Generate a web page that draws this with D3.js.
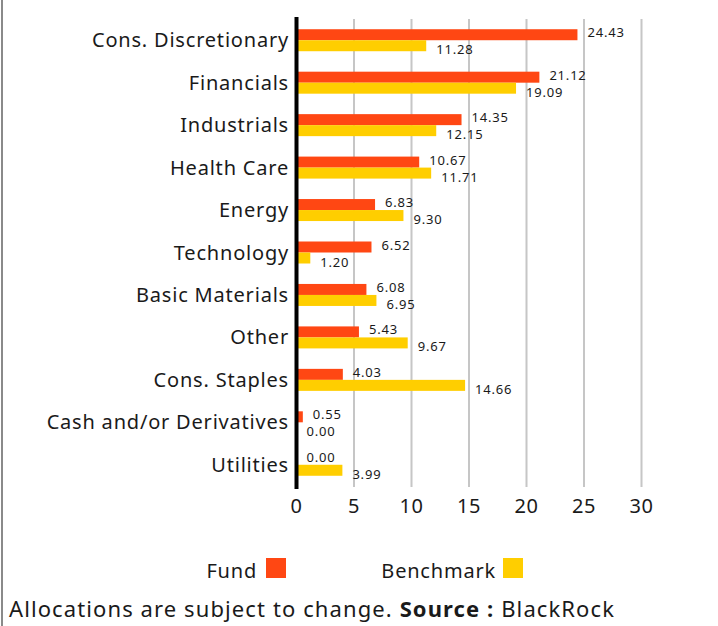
<!DOCTYPE html>
<html>
<head>
<meta charset="utf-8">
<script src="https://cdn.jsdelivr.net/npm/d3@7"></script>
<style>
  html, body { margin: 0; padding: 0; background: #fff; }
  svg { display: block; }
  text { font-family: "Noto Sans", sans-serif; fill: #1a1a1a; }
</style>
</head>
<body>
<svg id="chart" width="718" height="626"></svg>
<script>
// Sector allocation (%) for the fund and its benchmark
const sectors = ["Cons. Discretionary", "Financials", "Industrials", "Health Care", "Energy",
  "Technology", "Basic Materials", "Other", "Cons. Staples", "Cash and/or Derivatives", "Utilities"];
const fundValues = [24.43, 21.12, 14.35, 10.67, 6.83, 6.52, 6.08, 5.43, 4.03, 0.55, 0.00];
const benchmarkValues = [11.28, 19.09, 12.15, 11.71, 9.30, 1.20, 6.95, 9.67, 14.66, 0.00, 3.99];
const xTicks = [0, 5, 10, 15, 20, 25, 30];
const seriesNames = ["Fund", "Benchmark"];
const seriesColors = ["#FF4713", "#FFCE00"];

const svg = d3.select("#chart");

// frame edge on the left
svg.append("line")
  .attr("x1", 2).attr("x2", 2).attr("y1", 0).attr("y2", 626)
  .attr("stroke", "#8a8a8a").attr("stroke-width", 2);

const x = d3.scaleLinear().domain([0, 30]).range([296.5, 641.5]);
const y = d3.scaleBand().domain(sectors).range([19, 486]).paddingInner(0).paddingOuter(0);
const barH = 11;

// vertical gridlines
svg.append("g").selectAll("line")
  .data(xTicks.filter(d => d > 0))
  .join("line")
  .attr("x1", d => x(d)).attr("x2", d => x(d))
  .attr("y1", 19).attr("y2", 487)
  .attr("stroke", "#c6c6c6").attr("stroke-width", 2);

// x axis tick labels
svg.append("g").selectAll("text")
  .data(xTicks)
  .join("text")
  .attr("x", d => x(d)).attr("y", 513)
  .attr("text-anchor", "middle")
  .style("font-size", "20px")
  .style("letter-spacing", "0.5px")
  .text(d => d);

const groups = svg.append("g").selectAll("g")
  .data(sectors)
  .join("g")
  .attr("transform", d => `translate(0,${y(d) + y.bandwidth() / 2})`);

// category labels
groups.append("text")
  .attr("x", 289).attr("y", 7)
  .attr("text-anchor", "end")
  .style("font-size", "20px")
  .style("letter-spacing", "0.8px")
  .text(d => d);

const seriesData = [fundValues, benchmarkValues];

seriesData.forEach((vals, s) => {
  groups.append("rect")
    .attr("x", x(0))
    .attr("y", s === 0 ? -barH : 0)
    .attr("width", (d, i) => x(vals[i]) - x(0))
    .attr("height", barH)
    .attr("fill", seriesColors[s]);

  groups.append("text")
    .attr("x", (d, i) => x(vals[i]) + 10)
    .attr("y", s === 0 ? -3 : 14)
    .style("font-size", "13px")
    .style("letter-spacing", "0.8px")
    .text((d, i) => vals[i].toFixed(2));
});

// zero axis line
svg.append("line")
  .attr("x1", x(0)).attr("x2", x(0)).attr("y1", 17).attr("y2", 489)
  .attr("stroke", "#000").attr("stroke-width", 4);

// legend
const legend = [{ tx: 257, rx: 266 }, { tx: 496, rx: 503 }];
legend.forEach((p, i) => {
  svg.append("text")
    .attr("x", p.tx).attr("y", 578)
    .attr("text-anchor", "end")
    .style("font-size", "20px")
    .style("letter-spacing", "0.8px")
    .text(seriesNames[i]);
  svg.append("rect")
    .attr("x", p.rx).attr("y", 558)
    .attr("width", 20).attr("height", 20)
    .attr("fill", seriesColors[i]);
});

// footnote
const note = svg.append("text")
  .attr("x", 9).attr("y", 617)
  .style("font-size", "22px")
  .style("letter-spacing", "1.1px");
note.append("tspan").text("Allocations are subject to change. ");
note.append("tspan").style("font-weight", "bold").text("Source :");
note.append("tspan").text(" BlackRock");
</script>
</body>
</html>
